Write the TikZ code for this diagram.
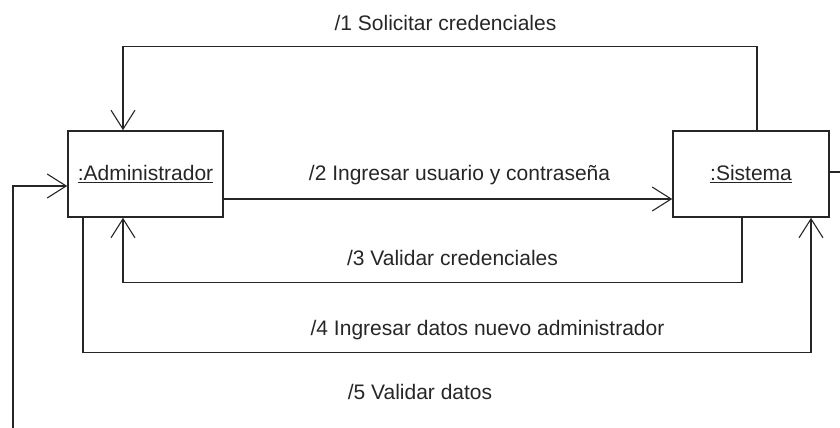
\documentclass[tikz,border=0pt]{standalone}
\usepackage{fontspec}
\setmainfont{Liberation Sans}
\usetikzlibrary{arrows.meta}
\begin{document}
\begin{tikzpicture}[x=1pt,y=-1pt,
  obj/.style={draw=black!85,line width=1.6pt,fill=white,minimum width=155pt,minimum height=86pt,inner sep=0pt,font=\fontsize{21}{25}\selectfont,text=black!85},
  msg/.style={draw=black!85,line width=1.3pt,-{Straight Barb[length=19pt,width=24pt,line width=1.1pt]}},
  lbl/.style={font=\fontsize{21}{25}\selectfont,text=black!85,inner sep=0pt}]
\useasboundingbox (0,0) rectangle (840,428);
\clip (0,0) rectangle (840,428);
\node[obj] (admin) at (145.5,174) {\underline{:Administrador}};
\node[obj,minimum width=156pt] (sistema) at (751,174) {\underline{:Sistema}};
% 1
\draw[msg] ([xshift=6pt]sistema.north) -- ++(0,-84) -| ([xshift=-22.5pt]admin.north);
% 2
\draw[msg] ([yshift=-25pt]admin.east) -- ([yshift=-25pt]sistema.west);
% 3
\draw[msg] ([xshift=-9pt]sistema.south) -- ++(0,65) -| ([xshift=-22.5pt]admin.south);
% 4
\draw[msg] ([xshift=-62.5pt]admin.south) -- ++(0,135) -| ([xshift=60pt]sistema.south);
% 5
\coordinate (c1) at (870,172);
\coordinate (c2) at (870,460);
\coordinate (c3) at (13,460);
\draw[msg] ([yshift=2pt]sistema.east) -- (c1) -- (c2) -- (c3) |- ([yshift=-12pt]admin.west);
% labels
\node[lbl] (l1) at (445.5,23) {/1 Solicitar credenciales};
\node[lbl] (l2) at (459.5,175) {/2 Ingresar usuario y contraseña};
\node[lbl] (l3) at (452.5,258) {/3 Validar credenciales};
\node[lbl] (l4) at (487.5,330) {/4 Ingresar datos nuevo administrador};
\node[lbl] (l5) at (420,392) {/5 Validar datos};
\end{tikzpicture}
\end{document}
